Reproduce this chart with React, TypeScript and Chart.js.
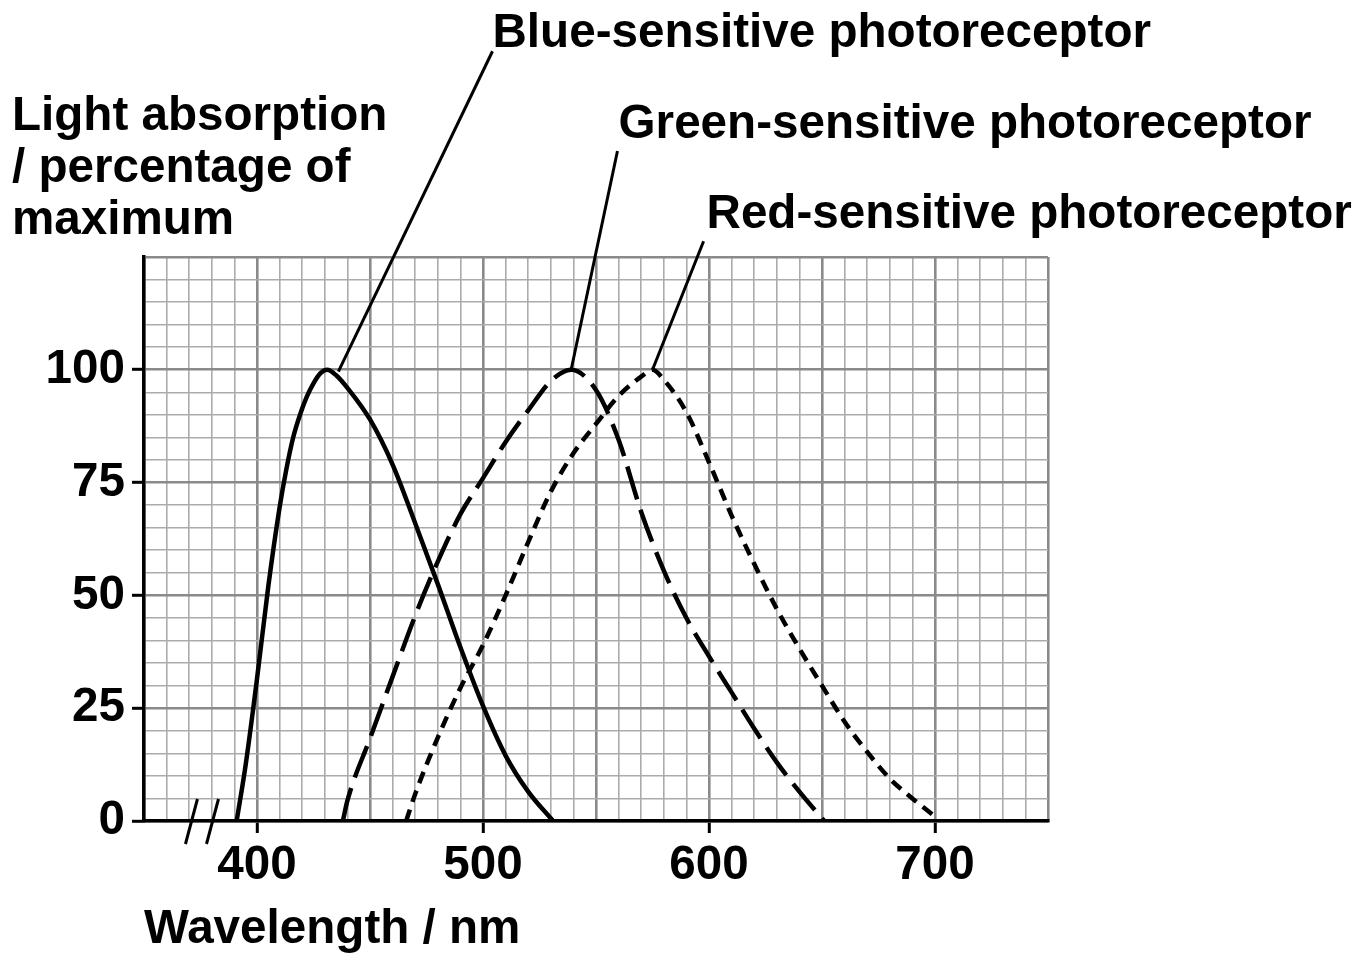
import React, { useEffect, useRef } from 'react';
import { Chart, registerables } from 'chart.js';

Chart.register(...registerables);

// ---- Data ----
const blueX = [391, 395, 400, 405, 410, 413, 416, 419, 422, 425, 428, 431, 435, 440, 450, 460, 470, 480, 490, 500, 510, 520, 531];
const blueY = [0, 12.5, 31.5, 52, 69.5, 78, 85, 90, 94, 97, 99.2, 100, 98.8, 96, 89, 79, 66, 52.5, 38.5, 25.5, 14.5, 6.5, 0];

const greenX = [438, 440, 450, 460, 470, 480, 490, 500, 510, 520, 530, 539, 550, 560, 570, 580, 590, 600, 610, 620, 630, 640, 651];
const greenY = [0, 4.5, 18.3, 32, 45.5, 57.5, 68, 76, 84, 91, 97.5, 100, 95.5, 84.5, 68.5, 55.5, 45, 36.5, 28.5, 20.5, 13, 6.5, 0];

const redX = [466, 470, 480, 490, 500, 510, 520, 530, 540, 550, 560, 570, 575, 580, 590, 600, 610, 620, 630, 640, 650, 660, 670, 680, 690, 700];
const redY = [0, 6, 18.5, 29.5, 39, 50, 61.8, 73, 81.5, 88, 94.2, 98.5, 100, 97.8, 90.6, 79.5, 67.7, 57, 47, 38.2, 30, 22, 15.3, 9.4, 5, 1];

const xTickLabels = [400, 500, 600, 700];
const yTickLabels = [0, 25, 50, 75, 100];

const calloutLabels = ['Blue-sensitive photoreceptor', 'Green-sensitive photoreceptor', 'Red-sensitive photoreceptor'];
const calloutTipX = [436, 539, 575];
const calloutTipY = [99.6, 100, 100];
const calloutTopX = [504.2, 559.5, 597.6];
const calloutTopY = [170.6, 148.5, 128.5];
const calloutTextX = [504.2, 560, 598.9];
const calloutTextY = [171.5, 151.3, 131.4];

const yTitleLines = ['Light absorption', '/ percentage of', 'maximum'];
const xTitle = 'Wavelength / nm';
const axisBreakX = [371, 380.3];

const FONT_FAMILY = '"Liberation Sans", Arial, Helvetica, sans-serif';
const FONT_SIZE = 47.6;
const FONT = `bold ${FONT_SIZE}px ${FONT_FAMILY}`;

const annotationPlugin = {
  id: 'annotations',
  afterDraw(chart: any) {
    const ctx = chart.ctx;
    const xs = chart.scales.x;
    const ys = chart.scales.y;
    const area = chart.chartArea;
    ctx.save();
    // callout lines
    ctx.strokeStyle = '#000';
    ctx.lineWidth = 3;
    ctx.lineCap = 'butt';
    for (let i = 0; i < calloutLabels.length; i++) {
      ctx.beginPath();
      ctx.moveTo(xs.getPixelForValue(calloutTopX[i]), ys.getPixelForValue(calloutTopY[i]));
      ctx.lineTo(xs.getPixelForValue(calloutTipX[i]), ys.getPixelForValue(calloutTipY[i]));
      ctx.stroke();
    }
    // callout texts
    ctx.fillStyle = '#000';
    ctx.font = FONT;
    ctx.textAlign = 'left';
    ctx.textBaseline = 'alphabetic';
    for (let i = 0; i < calloutLabels.length; i++) {
      ctx.fillText(calloutLabels[i], xs.getPixelForValue(calloutTextX[i]), ys.getPixelForValue(calloutTextY[i]));
    }
    // y title (top-left, three lines)
    const titleLeft = area.left - 132;
    const firstBase = area.top - 127;
    yTitleLines.forEach((t, i) => {
      ctx.fillText(t, titleLeft, firstBase + i * 52);
    });
    // x title
    ctx.fillText(xTitle, area.left, area.bottom + 122);
    // axis break marks
    ctx.lineWidth = 3;
    axisBreakX.forEach((v) => {
      const px = xs.getPixelForValue(v);
      ctx.beginPath();
      ctx.moveTo(px - 6, area.bottom + 23);
      ctx.lineTo(px + 6, area.bottom - 22);
      ctx.stroke();
    });
    ctx.restore();
  },
};

function isMajor(v: number, step: number) {
  return Math.abs(Math.round(v) % step) === 0;
}

export default function App() {
  const canvasRef = useRef<HTMLCanvasElement | null>(null);

  useEffect(() => {
    if (!canvasRef.current) return;
    const mk = (xa: number[], ya: number[]) => xa.map((x, i) => ({ x, y: ya[i] }));
    const chart = new Chart(canvasRef.current, {
      type: 'line',
      data: {
        datasets: [
          {
            label: 'Blue-sensitive photoreceptor',
            data: mk(blueX, blueY),
            borderColor: '#000',
            borderWidth: 4.5,
            pointRadius: 0,
            cubicInterpolationMode: 'monotone',
            fill: false,
          },
          {
            label: 'Green-sensitive photoreceptor',
            data: mk(greenX, greenY),
            borderColor: '#000',
            borderWidth: 4.5,
            borderDash: [34, 11],
            pointRadius: 0,
            cubicInterpolationMode: 'monotone',
            fill: false,
          },
          {
            label: 'Red-sensitive photoreceptor',
            data: mk(redX, redY),
            borderColor: '#000',
            borderWidth: 4.5,
            borderDash: [12, 8],
            pointRadius: 0,
            cubicInterpolationMode: 'monotone',
            fill: false,
          },
        ],
      },
      options: {
        animation: false,
        responsive: true,
        maintainAspectRatio: false,
        devicePixelRatio: 1,
        layout: { padding: { top: 257, right: 320, left: 0, bottom: 0 } },
        plugins: {
          legend: { display: false },
          tooltip: { enabled: false },
        },
        scales: {
          x: {
            type: 'linear',
            min: 350,
            max: 750,
            afterFit: (s: any) => {
              s.height = 133;
            },
            border: { color: '#000', width: 3.5 },
            grid: {
              color: (c: any) => (c.tick && isMajor(c.tick.value, 50) ? '#8a8a8a' : '#ababab'),
              lineWidth: (c: any) => (c.tick && isMajor(c.tick.value, 50) ? 2.6 : 1.6),
              tickColor: (c: any) =>
                c.tick && xTickLabels.includes(Math.round(c.tick.value)) ? '#000' : 'rgba(0,0,0,0)',
              tickWidth: 3,
              tickLength: 12,
            },
            ticks: {
              stepSize: 10,
              autoSkip: false,
              maxRotation: 0,
              color: '#000',
              padding: 4,
              font: { family: FONT_FAMILY, size: FONT_SIZE, weight: 'bold' },
              callback: (v: any) => (xTickLabels.includes(Math.round(v)) ? String(Math.round(v)) : ''),
            },
          },
          y: {
            type: 'linear',
            min: 0,
            max: 125,
            afterFit: (s: any) => {
              s.width = 144;
            },
            border: { color: '#000', width: 3.5 },
            grid: {
              color: (c: any) => (c.tick && isMajor(c.tick.value, 25) ? '#8a8a8a' : '#ababab'),
              lineWidth: (c: any) => (c.tick && isMajor(c.tick.value, 25) ? 2.6 : 1.6),
              tickColor: (c: any) =>
                c.tick && yTickLabels.includes(Math.round(c.tick.value)) ? '#000' : 'rgba(0,0,0,0)',
              tickWidth: 3,
              tickLength: 12,
            },
            ticks: {
              stepSize: 5,
              autoSkip: false,
              color: '#000',
              padding: 7,
              font: { family: FONT_FAMILY, size: FONT_SIZE, weight: 'bold' },
              callback: (v: any) => (yTickLabels.includes(Math.round(v)) ? String(Math.round(v)) : ''),
            },
          },
        },
      } as any,
      plugins: [annotationPlugin],
    });
    return () => chart.destroy();
  }, []);

  return (
    <div style={{ position: 'absolute', left: 0, top: 0, width: 1368, height: 954, background: '#fff' }}>
      <canvas ref={canvasRef} />
    </div>
  );
}
